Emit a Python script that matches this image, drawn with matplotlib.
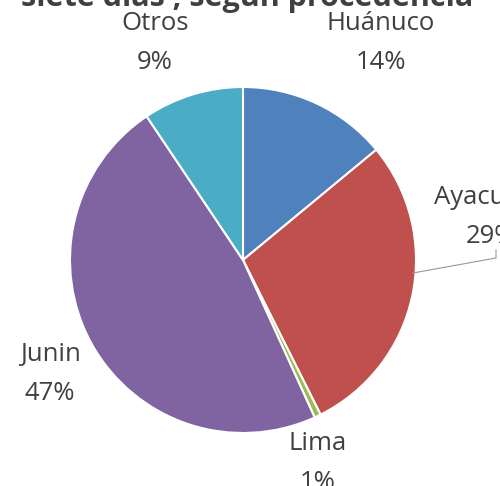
import matplotlib.pyplot as plt

# datos del gráfico
regiones = ['Huánuco', 'Ayacucho', 'Lima', 'Junin', 'Otros']
valores = [14.0, 28.6, 0.6, 47.4, 9.4]
colores = ['#4F81BD', '#C0504D', '#9BBB59', '#8064A2', '#4BACC6']
titulo = 'siete días , según procedencia'

# posiciones de las etiquetas (pixeles, origen abajo a la izquierda)
pos_etiquetas = {
    'Huánuco': (381, 443),
    'Ayacucho': (491, 269),
    'Lima': (318, 23),
    'Junin': (50, 112),
    'Otros': (155, 443),
}


def draw_graph() -> None:
    fig = plt.figure(figsize=(5.0, 4.86), dpi=100)
    ax = fig.add_axes([0, 0, 1, 1])

    ax.pie(valores, colors=colores, startangle=90, counterclock=False,
           center=(243, 226), radius=173,
           wedgeprops={'edgecolor': 'white', 'linewidth': 1.5})

    ax.set_xlim(0, 500)
    ax.set_ylim(0, 486)
    ax.set_aspect('equal')
    ax.axis('off')

    for nombre, valor in zip(regiones, valores):
        x, y = pos_etiquetas[nombre]
        ax.text(x, y, f'{nombre}\n{round(valor)}%', ha='center', va='center',
                fontsize=18.5, color='#404040', family='Open Sans',
                linespacing=1.75)

    # linea guía de Ayacucho
    ax.plot([413, 496, 496], [213, 228, 236], color='#999999', lw=0.8)

    ax.text(247, 488, titulo, ha='center', va='center', fontsize=22,
            fontweight='bold', color='#404040', family='Open Sans')

    fig.savefig('out.png', dpi=100)


if __name__ == '__main__':
    draw_graph()
